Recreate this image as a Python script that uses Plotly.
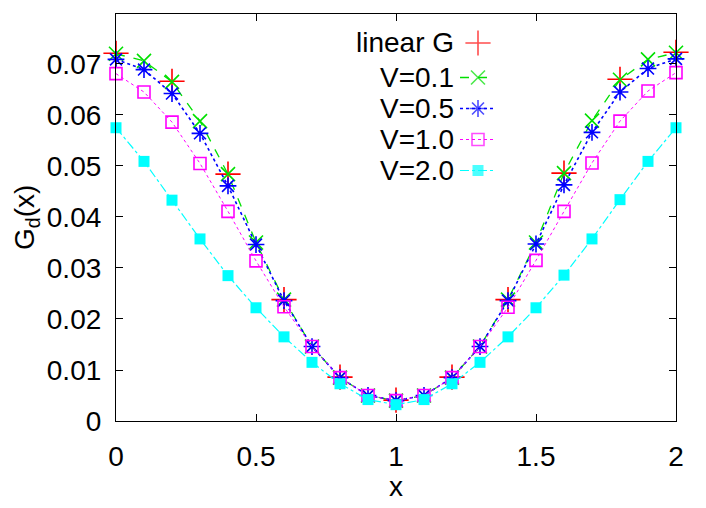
import plotly.graph_objects as go

# ---------------- data ----------------
x_all = [0.0, 0.1, 0.2, 0.3, 0.4, 0.5, 0.6, 0.7, 0.8, 0.9, 1.0,
         1.1, 1.2, 1.3, 1.4, 1.5, 1.6, 1.7, 1.8, 1.9, 2.0]
x_lin = [0.0, 0.2, 0.4, 0.6, 0.8, 1.0, 1.2, 1.4, 1.6, 1.8, 2.0]

linear_G = [0.0721, 0.0666, 0.0484, 0.0238, 0.0086, 0.0041,
            0.0086, 0.0238, 0.0486, 0.0670, 0.0723]
v01 = [0.0720, 0.0706, 0.0665, 0.0588, 0.0484, 0.0350, 0.0238, 0.0146, 0.0085, 0.0050, 0.0040,
       0.0050, 0.0085, 0.0146, 0.0238, 0.0350, 0.0486, 0.0589, 0.0669, 0.0709, 0.0722]
v05 = [0.0709, 0.0689, 0.0642, 0.0564, 0.0461, 0.0346, 0.0236, 0.0146, 0.0085, 0.0050, 0.0040,
       0.0050, 0.0085, 0.0146, 0.0236, 0.0347, 0.0463, 0.0566, 0.0645, 0.0691, 0.0710]
v10 = [0.0681, 0.0645, 0.0586, 0.0505, 0.0411, 0.0314, 0.0224, 0.0146, 0.0085, 0.0050, 0.0040,
       0.0050, 0.0085, 0.0146, 0.0223, 0.0315, 0.0411, 0.0506, 0.0588, 0.0647, 0.0683]
v20 = [0.0575, 0.0509, 0.0433, 0.0357, 0.0285, 0.0222, 0.0165, 0.0115, 0.0073, 0.0042, 0.0032,
       0.0042, 0.0073, 0.0115, 0.0165, 0.0222, 0.0286, 0.0357, 0.0434, 0.0509, 0.0575]

legend_labels = ["linear G", "V=0.1", "V=0.5", "V=1.0", "V=2.0"]
x_ticks = [0, 0.5, 1, 1.5, 2]
x_tick_text = ["0", "0.5", "1", "1.5", "2"]
y_ticks = [0, 0.01, 0.02, 0.03, 0.04, 0.05, 0.06, 0.07]
y_tick_text = ["0", "0.01", "0.02", "0.03", "0.04", "0.05", "0.06", "0.07"]

# ---------------- layout geometry (reference pixel coords) ----------------
FONT = "Liberation Sans, Arial, Helvetica, sans-serif"
OFF = 8                      # default body margin of the html page
WIN_W, WIN_H = 706, 508
W, H = WIN_W - 2 * OFF, WIN_H - 2 * OFF
PL, PR, PT, PB = 116, 676, 14, 421   # plot area in window pixels
L = PL - OFF
R = (OFF + W) - PR
T = PT - OFF
B = (OFF + H) - PB

styles = [
    dict(color="#ff0000", symbol="cross-thin-open", size=18, dash=None, lw=0),
    dict(color="#00e000", symbol="x-thin-open", size=14, dash="dash", lw=1.3),
    dict(color="#0000ff", symbol="asterisk-open", size=14, dash="dot", lw=1.6),
    dict(color="#ff00ff", symbol="square-open", size=12, dash="dot", lw=1),
    dict(color="#00ffff", symbol="square", size=11, dash="dashdot", lw=1.2),
]
series_x = [x_lin, x_all, x_all, x_all, x_all]
series_y = [linear_G, v01, v05, v10, v20]

fig = go.Figure()

for xs, ys, st in zip(series_x, series_y, styles):
    mode = "markers" if st["lw"] == 0 else "lines+markers"
    fig.add_trace(go.Scatter(
        x=xs, y=ys, mode=mode, cliponaxis=False, showlegend=False,
        line=dict(color=st["color"], width=st["lw"], dash=st["dash"]),
        marker=dict(symbol=st["symbol"], size=st["size"], color=st["color"],
                    line=dict(color=st["color"], width=1.6 if st["symbol"] != "square" else 0)),
    ))

# ---------------- custom gnuplot-like legend (text left, sample right) ----------------
def px2paper_x(px):
    return (px - PL) / (PR - PL)
def px2paper_y(py):
    return (PB - py) / (PB - PT)

row_y = [43, 77.5, 108.5, 139.5, 170.5]
text_right = 456
samp_x0, samp_xm, samp_x1 = 460, 478, 495

for lab, st, ry in zip(legend_labels, styles, row_y):
    fig.add_annotation(
        x=px2paper_x(text_right), y=px2paper_y(ry), xref="paper", yref="paper",
        text=lab, showarrow=False, xanchor="right", yanchor="middle",
        font=dict(family=FONT, size=28, color="black"))
    fig.add_trace(go.Scatter(
        x=[samp_x0, samp_xm, samp_x1], y=[ry, ry, ry], xaxis="x2", yaxis="y2",
        mode="markers" if st["lw"] == 0 else "lines+markers",
        cliponaxis=False, showlegend=False, hoverinfo="skip",
        line=dict(color=st["color"], width=st["lw"], dash=st["dash"]),
        marker=dict(symbol=st["symbol"], size=[0, st["size"], 0], color=st["color"],
                    line=dict(color=st["color"], width=1.6 if st["symbol"] != "square" else 0)),
    ))

# axis titles
fig.add_annotation(x=px2paper_x(396), y=px2paper_y(486), xref="paper", yref="paper",
                   text="x", showarrow=False, xanchor="center", yanchor="middle",
                   font=dict(family=FONT, size=28, color="black"))
fig.add_annotation(x=px2paper_x(27), y=px2paper_y(218), xref="paper", yref="paper",
                   text="G<sub>d</sub>(x)", showarrow=False, textangle=-90,
                   xanchor="center", yanchor="middle",
                   font=dict(family=FONT, size=28, color="black"))

axis_common = dict(showgrid=False, zeroline=False, showline=True, linecolor="black",
                   linewidth=1.2, mirror="ticks", ticks="inside", ticklen=7,
                   tickcolor="black", tickwidth=1,
                   tickfont=dict(family=FONT, size=28, color="black"))

fig.update_layout(
    width=W, height=H,
    margin=dict(l=L, r=R, t=T, b=B),
    plot_bgcolor="white", paper_bgcolor="white",
    showlegend=False,
    xaxis=dict(range=[0, 2], tickvals=x_ticks, ticktext=x_tick_text,
               ticklabelstandoff=10, **axis_common),
    yaxis=dict(range=[0, 0.0798], tickvals=y_ticks, ticktext=y_tick_text,
               ticklabelstandoff=8, **axis_common),
    xaxis2=dict(range=[PL, PR], overlaying="x", visible=False, fixedrange=True),
    yaxis2=dict(range=[PB, PT], overlaying="y", visible=False, fixedrange=True),
)

fig.write_html("out.html")
